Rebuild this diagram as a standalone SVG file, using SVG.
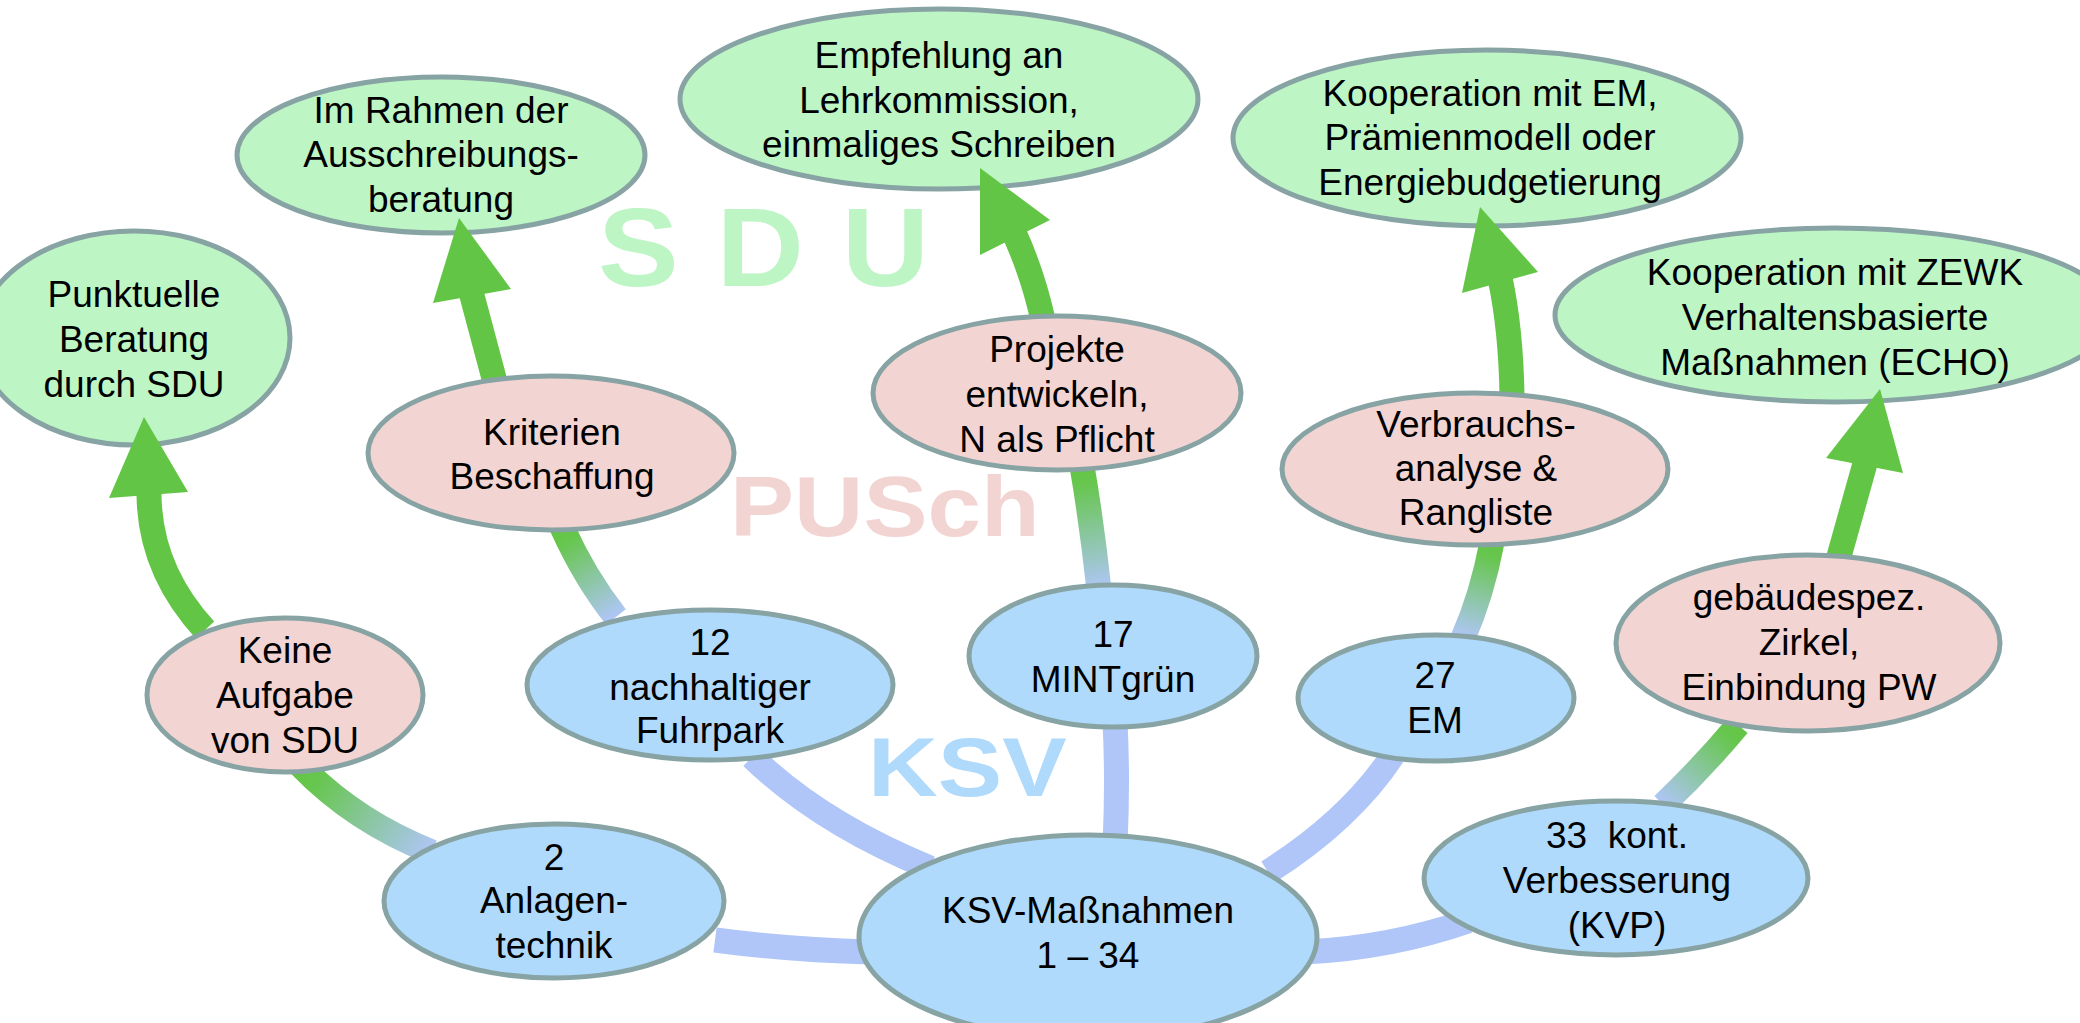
<svg xmlns="http://www.w3.org/2000/svg" width="2080" height="1023" viewBox="0 0 2080 1023">
<style>
.g ellipse{fill:#bdf5c5}
.p ellipse{fill:#f2d4d2}
.b ellipse{fill:#afdafc}
.node ellipse{stroke:#87a3a3;stroke-width:5}
.node text{font-family:"Liberation Sans",Arial,sans-serif;font-size:37px;fill:#000;text-anchor:middle}
.wm{font-family:"Liberation Sans",Arial,sans-serif;font-weight:bold}
.c{fill:none;stroke-width:25}
.cg{stroke:#63c545}
.cb{stroke:#b0c6f8}
.ah{fill:#63c545}
</style>
<defs>
<linearGradient id="gr2" gradientUnits="userSpaceOnUse" x1="300" y1="765" x2="432" y2="852"><stop offset="0" stop-color="#63c545"/><stop offset="0.15" stop-color="#67c64f"/><stop offset="1" stop-color="#b0c6f8"/></linearGradient>
<linearGradient id="gr5" gradientUnits="userSpaceOnUse" x1="1738" y1="725" x2="1663" y2="805"><stop offset="0" stop-color="#63c545"/><stop offset="0.15" stop-color="#67c64f"/><stop offset="1" stop-color="#b0c6f8"/></linearGradient>
<linearGradient id="gr8" gradientUnits="userSpaceOnUse" x1="562" y1="527" x2="616" y2="617"><stop offset="0" stop-color="#63c545"/><stop offset="0.15" stop-color="#67c64f"/><stop offset="1" stop-color="#b0c6f8"/></linearGradient>
<linearGradient id="gr11" gradientUnits="userSpaceOnUse" x1="1082" y1="466" x2="1099" y2="590"><stop offset="0" stop-color="#63c545"/><stop offset="0.15" stop-color="#67c64f"/><stop offset="1" stop-color="#b0c6f8"/></linearGradient>
<linearGradient id="gr14" gradientUnits="userSpaceOnUse" x1="1492" y1="542" x2="1463" y2="638"><stop offset="0" stop-color="#63c545"/><stop offset="0.15" stop-color="#67c64f"/><stop offset="1" stop-color="#b0c6f8"/></linearGradient>
</defs>
<rect width="2080" height="1023" fill="#fff"/>
<g id="watermarks">
<text class="wm" transform="translate(598,286) scale(1.08,1)" font-size="112" letter-spacing="2" fill="#bdf5c5">S D U</text>
<text class="wm" transform="translate(730,536) scale(1.13,1)" font-size="85" fill="#f2d4d2">PUSch</text>
<text class="wm" transform="translate(868,796) scale(1.15,1)" font-size="84" fill="#afdafc">KSV</text>
</g>
<g id="connectors">
<path class="c cg" d="M205,630 Q148,568 149,490"/>
<path class="c" stroke="url(#gr2)" d="M300,765 Q354,821 432,852"/>
<path class="c cb" d="M715,940 Q790,950 870,952"/>
<path class="c cb" d="M1305,952 Q1390,948 1468,921"/>
<path class="c" stroke="url(#gr5)" d="M1663,805 Q1702,768 1738,725"/>
<path class="c cg" d="M1838,560 Q1852,510 1866,460"/>
<path class="c cg" d="M495,382 L471,292"/>
<path class="c" stroke="url(#gr8)" d="M562,527 Q585,578 616,617"/>
<path class="c cb" d="M752,757 Q820,823 930,868"/>
<path class="c cb" d="M1115,722 Q1118,780 1115,845"/>
<path class="c" stroke="url(#gr11)" d="M1082,466 Q1092,525 1099,590"/>
<path class="c cg" d="M1043,320 Q1033,275 1015,235"/>
<path class="c cg" d="M1512,396 Q1511,330 1500,278"/>
<path class="c" stroke="url(#gr14)" d="M1492,542 Q1482,595 1463,638"/>
<path class="c cb" d="M1393,755 Q1350,820 1268,872"/>
</g>
<g id="n1" class="node g"><ellipse cx="134" cy="338" rx="156" ry="107"/><text x="134" y="307">Punktuelle</text><text x="134" y="352">Beratung</text><text x="134" y="397">durch SDU</text></g>
<g id="n2" class="node g"><ellipse cx="441" cy="155" rx="204" ry="78"/><text x="441" y="123">Im Rahmen der</text><text x="441" y="167">Ausschreibungs-</text><text x="441" y="212">beratung</text></g>
<g id="n3" class="node g"><ellipse cx="939" cy="99" rx="259" ry="90"/><text x="939" y="68">Empfehlung an</text><text x="939" y="113">Lehrkommission,</text><text x="939" y="157">einmaliges Schreiben</text></g>
<g id="n4" class="node g"><ellipse cx="1487" cy="138" rx="254" ry="88"/><text x="1490" y="106">Kooperation mit EM,</text><text x="1490" y="150">Prämienmodell oder</text><text x="1490" y="195">Energiebudgetierung</text></g>
<g id="n5" class="node g"><ellipse cx="1835" cy="315" rx="280" ry="87"/><text x="1835" y="285">Kooperation mit ZEWK</text><text x="1835" y="330">Verhaltensbasierte</text><text x="1835" y="375">Maßnahmen (ECHO)</text></g>
<g id="n6" class="node p"><ellipse cx="551" cy="453" rx="183" ry="77"/><text x="552" y="445">Kriterien</text><text x="552" y="489">Beschaffung</text></g>
<g id="n7" class="node p"><ellipse cx="1057" cy="393" rx="184" ry="77"/><text x="1057" y="362">Projekte</text><text x="1057" y="407">entwickeln,</text><text x="1057" y="452">N als Pflicht</text></g>
<g id="n8" class="node p"><ellipse cx="1475" cy="469" rx="193" ry="76"/><text x="1476" y="437">Verbrauchs-</text><text x="1476" y="481">analyse &amp;</text><text x="1476" y="525">Rangliste</text></g>
<g id="n9" class="node p"><ellipse cx="1808" cy="643" rx="192" ry="88"/><text x="1809" y="610">gebäudespez.</text><text x="1809" y="655">Zirkel,</text><text x="1809" y="700">Einbindung PW</text></g>
<g id="n10" class="node p"><ellipse cx="285" cy="695" rx="138" ry="77"/><text x="285" y="663">Keine</text><text x="285" y="708">Aufgabe</text><text x="285" y="753">von SDU</text></g>
<g id="n11" class="node b"><ellipse cx="710" cy="685" rx="183" ry="75"/><text x="710" y="655">12</text><text x="710" y="700">nachhaltiger</text><text x="710" y="743">Fuhrpark</text></g>
<g id="n12" class="node b"><ellipse cx="1113" cy="656" rx="144" ry="71"/><text x="1113" y="647">17</text><text x="1113" y="692">MINTgrün</text></g>
<g id="n13" class="node b"><ellipse cx="1436" cy="698" rx="138" ry="63"/><text x="1435" y="688">27</text><text x="1435" y="733">EM</text></g>
<g id="n14" class="node b"><ellipse cx="554" cy="901" rx="170" ry="77"/><text x="554" y="870">2</text><text x="554" y="913">Anlagen-</text><text x="554" y="958">technik</text></g>
<g id="n15" class="node b"><ellipse cx="1088" cy="937" rx="229" ry="102"/><text x="1088" y="923">KSV-Maßnahmen</text><text x="1088" y="968">1 – 34</text></g>
<g id="n16" class="node b"><ellipse cx="1616" cy="878" rx="192" ry="77"/><text x="1617" y="848" xml:space="preserve">33  kont.</text><text x="1617" y="893">Verbesserung</text><text x="1617" y="938">(KVP)</text></g>
<g id="arrowheads">
<polygon class="ah" points="144,417 109,498 188,492"/>
<polygon class="ah" points="459,218 433,303 511,289"/>
<polygon class="ah" points="980,168 980,255 1050,220"/>
<polygon class="ah" points="1480,207 1462,293 1538,272"/>
<polygon class="ah" points="1880,389 1826,458 1903,473"/>
</g>
</svg>
